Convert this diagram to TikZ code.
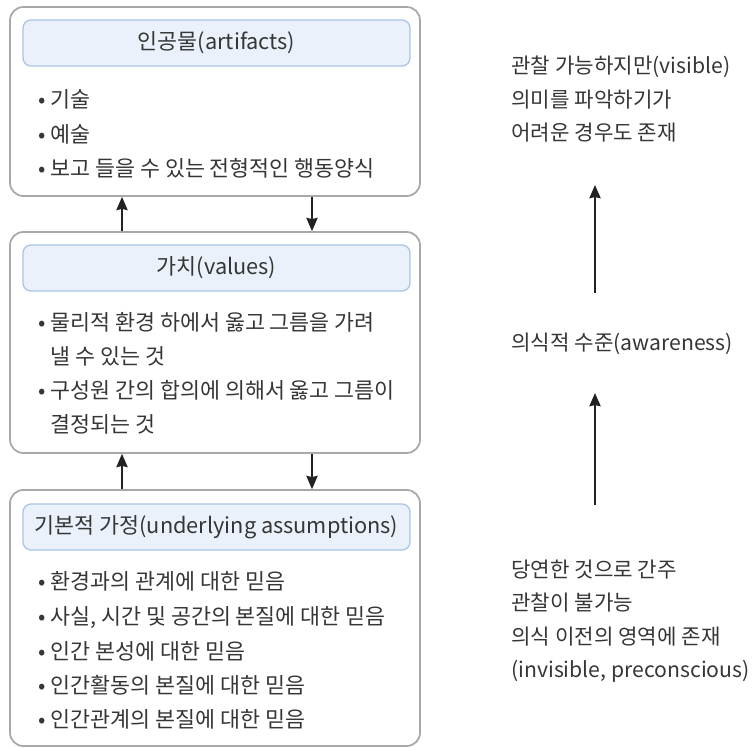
\documentclass[tikz,border=0pt]{standalone}
\usepackage{fontspec}
\setmainfont{Noto Sans CJK KR}
\usepackage{xcolor}
\usetikzlibrary{arrows.meta}
\definecolor{scgray}{HTML}{A8A8A8}
\definecolor{scblue}{HTML}{A9C5EA}
\definecolor{scpale}{HTML}{EAF1FA}
\definecolor{sctext}{HTML}{363636}
\definecolor{scarrow}{HTML}{222222}

\begin{document}
\begin{tikzpicture}[x=0.75pt, y=-0.75pt,
  layer/.style={draw=scgray, line width=1.3pt, rounded corners=10pt, minimum width=307.5pt, inner sep=0pt},
  head/.style={draw=scblue, line width=1pt, fill=scpale, rounded corners=6pt, minimum width=290.25pt, minimum height=34.5pt, inner sep=0pt, text=sctext, font=\fontsize{16.3}{26}\selectfont},
  item/.style={anchor=base west, inner sep=0pt, align=left, text=sctext, font=\fontsize{16.3}{25.5}\selectfont},
  note/.style={anchor=base west, inner sep=0pt, align=left, text=sctext, font=\fontsize{15.9}{25}\selectfont},
  arr/.style={draw=scarrow, line width=1.2pt, -{Stealth[length=10pt, width=8.5pt, inset=1pt]}}]
  \useasboundingbox (0,0) rectangle (754,748);

  % three levels
  \node[layer, minimum height=141.75pt] (art) at (215,101.5) {};
  \node[layer, minimum height=165.75pt] (val) at (215,342.5) {};
  \node[layer, minimum height=192pt] (bas) at (215,618) {};

  \node[head] (arthead) at (216.5,43) {인공물(artifacts)};
  \node[head] (valhead) at (216.5,268) {가치(values)};
  \node[head] (bashead) at (216.5,527) {기본적 가정(underlying assumptions)};

  % base anchor sits on the last line
  \node[item] (art1) at (38,107.5) {• 기술};
  \node[item] (art2) at (38,142.5) {• 예술};
  \node[item] (art3) at (38,177) {• 보고 들을 수 있는 전형적인 행동양식};

  \node[item] (val1) at (38,364.5) {• 물리적 환경 하에서 옳고 그름을 가려\\\hphantom{• }낼 수 있는 것};
  \node[item] (val2) at (38,433) {• 구성원 간의 합의에 의해서 옳고 그름이\\\hphantom{• }결정되는 것};

  \node[item] (bas1) at (38,589.5) {• 환경과의 관계에 대한 믿음};
  \node[item] (bas2) at (38,624.5) {• 사실, 시간 및 공간의 본질에 대한 믿음};
  \node[item] (bas3) at (38,659.5) {• 인간 본성에 대한 믿음};
  \node[item] (bas4) at (38,693.5) {• 인간활동의 본질에 대한 믿음};
  \node[item] (bas5) at (38,727.5) {• 인간관계의 본질에 대한 믿음};

  % links between levels
  \coordinate (upx) at (122,0);
  \coordinate (downx) at (312,0);
  \draw[arr] (val.north -| upx) -- (art.south -| upx);
  \draw[arr] (art.south -| downx) -- (val.north -| downx);
  \draw[arr] (bas.north -| upx) -- (val.south -| upx);
  \draw[arr] (val.south -| downx) -- (bas.north -| downx);

  % visibility scale
  \node[note] (visible) at (511,140.5) {관찰 가능하지만(visible)\\의미를 파악하기가\\어려운 경우도 존재};
  \node[note] (aware) at (511,350.5) {의식적 수준(awareness)};
  \node[note] (hidden) at (511,677.5) {당연한 것으로 간주\\관찰이 불가능\\의식 이전의 영역에 존재\\(invisible, preconscious)};

  \coordinate (up1s) at (595,293);
  \coordinate (up1e) at (595,185);
  \coordinate (up2s) at (595,505);
  \coordinate (up2e) at (595,393);
  \draw[arr] (up1s) -- (up1e);
  \draw[arr] (up2s) -- (up2e);
\end{tikzpicture}
\end{document}
